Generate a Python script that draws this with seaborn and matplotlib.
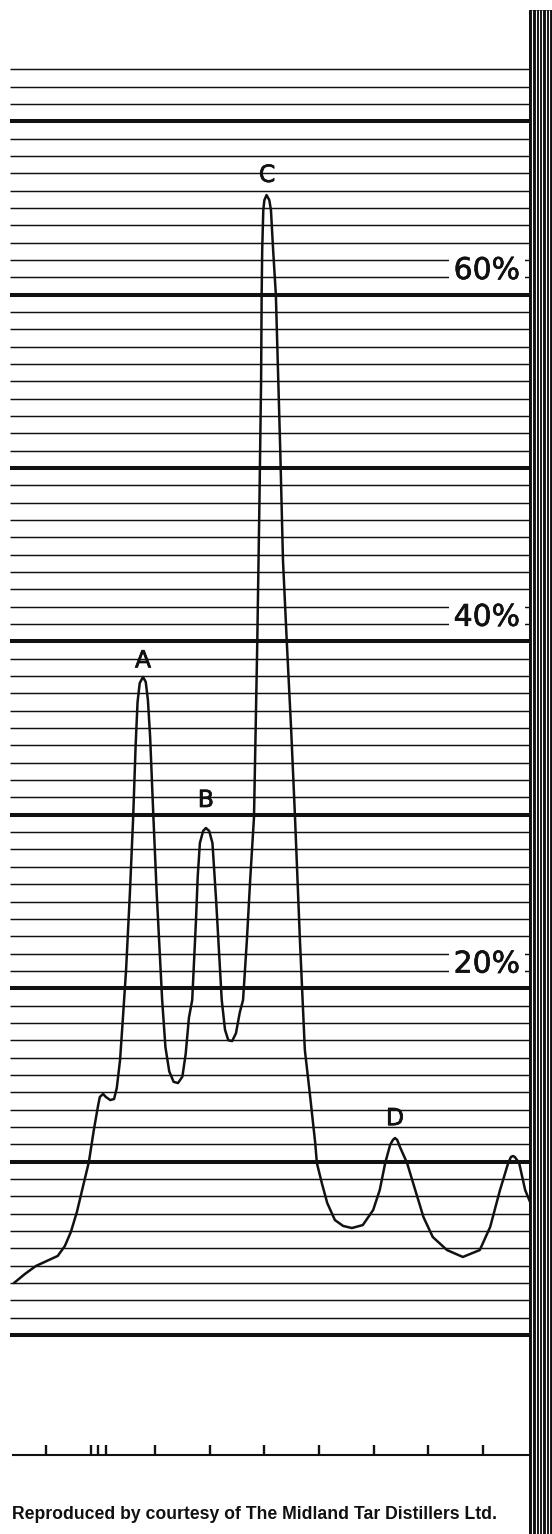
import numpy as np
import pandas as pd
import matplotlib
matplotlib.use("Agg")
import matplotlib.pyplot as plt
import matplotlib.patheffects as pe
import seaborn as sns

# ---- data -------------------------------------------------------------
# chart-paper trace: retention (divisions) and detector response (%)
retention = [
    -0.58, -0.38, -0.18, 0.02, 0.22, 0.35, 0.46, 0.57, 0.68, 0.79, 0.88, 0.96,
    0.99, 1.05, 1.10, 1.18, 1.25, 1.30, 1.36, 1.41, 1.47, 1.54, 1.60, 1.645,
    1.68, 1.72, 1.78, 1.83, 1.87, 1.91, 1.97, 2.03, 2.13, 2.19, 2.26, 2.34,
    2.42, 2.50, 2.56, 2.62, 2.68, 2.75, 2.78, 2.82, 2.88, 2.93, 2.99, 3.05,
    3.09, 3.12, 3.22, 3.28, 3.34, 3.41, 3.48, 3.55, 3.61, 3.68, 3.74, 3.81,
    3.84, 3.87, 3.91, 3.94, 3.95, 3.96, 3.98, 4.00, 4.04, 4.09, 4.12, 4.16,
    4.21, 4.29, 4.34, 4.41, 4.49, 4.56, 4.65, 4.74, 4.83, 4.93, 4.96, 5.05,
    5.15, 5.29, 5.44, 5.60, 5.80, 5.99, 6.11, 6.21, 6.30, 6.35, 6.39, 6.43,
    6.48, 6.61, 6.72, 6.91, 7.08, 7.34, 7.63, 7.94, 8.13, 8.31, 8.46, 8.51,
    8.55, 8.58, 8.66, 8.77, 8.92, 9.00,
]
response = [
    3.00, 3.52, 3.98, 4.27, 4.56, 5.13, 5.94, 7.09, 8.54, 9.98, 11.82, 13.26,
    13.73, 13.90, 13.73, 13.55, 13.61, 14.24, 15.86, 18.17, 21.05, 25.49, 29.87, 34.00,
    36.50, 37.60, 37.95, 37.66, 36.60, 34.50, 29.87, 25.49, 19.32, 16.60, 15.20, 14.60,
    14.53, 14.90, 16.20, 18.30, 19.32, 24.00, 26.41, 28.37, 29.07, 29.24, 29.07, 28.37,
    26.41, 24.91, 19.32, 17.60, 17.00, 16.95, 17.40, 18.60, 19.32, 22.78, 26.24, 29.87,
    34.89, 39.97, 48.15, 55.07, 59.98, 62.57, 64.88, 65.45, 65.74, 65.45, 64.88, 62.57,
    59.98, 51.04, 44.69, 39.97, 34.89, 29.87, 22.78, 16.44, 13.96, 11.07, 9.92, 8.77,
    7.61, 6.63, 6.29, 6.17, 6.34, 7.21, 8.36, 9.92, 10.96, 11.25, 11.36, 11.25,
    10.84, 9.92, 8.77, 6.80, 5.65, 4.90, 4.50, 4.90, 6.23, 8.36, 9.92, 10.27,
    10.32, 10.27, 9.92, 8.36, 7.21, 6.86,
]

# labelled peaks
peak_names = ["A", "B", "C", "D"]
peak_retention = [1.78, 2.93, 4.05, 6.39]
peak_label_level = [38.5, 30.45, 66.5, 12.1]

# chart-paper rulings (percent)
minor_levels = list(range(0, 74))
major_levels = [0, 10, 20, 30, 40, 50, 60, 70]
scale_values = [20, 40, 60]
scale_labels = ["20%", "40%", "60%"]

# time-base marks along the lower edge
time_marks = [0, 0.83, 0.96, 1.10, 2, 3, 4, 5, 6, 7, 8]

caption = "Reproduced by courtesy of The Midland Tar Distillers Ltd."

# ---- drawing ------------------------------------------------------------
sns.set_theme(style="white")
plt.rcParams["font.family"] = ["DejaVu Sans"]

INK = "#111111"
heavy = [pe.withStroke(linewidth=0.5, foreground=INK)]

fig = plt.figure(figsize=(5.52, 15.34), dpi=100)
ax = fig.add_axes([0, 0, 1, 1])
ax.set_xlim(-0.836, 9.261)
ax.set_ylim(-11.476, 76.99)
ax.axis("off")

paper_left, paper_right = -0.66, 8.84

# ruled lines
minor = [v for v in minor_levels if v not in major_levels]
ax.hlines(minor, paper_left, paper_right, colors=INK, lw=1.05, zorder=1)
ax.hlines(major_levels, paper_left, paper_right, colors=INK, lw=2.9, zorder=1)

# percentage scale labels, knocking out the rulings behind them
for val, lab in zip(scale_values, scale_labels):
    ax.text(8.07, val + 0.9, lab, ha="center", va="baseline", fontsize=21.5,
            color=INK, zorder=3, path_effects=heavy,
            bbox=dict(boxstyle="square,pad=0.16", fc="white", ec="none"))

# the recorder trace
trace = pd.DataFrame({"retention": retention, "response": response})
sns.lineplot(data=trace, x="retention", y="response", sort=False,
             color=INK, lw=1.8, ax=ax, zorder=4, estimator=None)
ax.lines[-1].set_solid_joinstyle("round")
ax.lines[-1].set_solid_capstyle("round")

# peak letters
for name, px, py in zip(peak_names, peak_retention, peak_label_level):
    ax.text(px, py, name, ha="center", va="baseline", fontsize=17,
            color=INK, zorder=5, path_effects=heavy)

# time base with its marks
base_level = -6.92
ax.hlines(base_level, -0.62, paper_right, colors=INK, lw=1.5, zorder=2)
ax.vlines(time_marks, base_level, base_level + 0.55, colors=INK, lw=1.7, zorder=2)

# striped paper edge on the right
ax.axvspan(8.845, 9.27, ymin=0, ymax=(76.4 + 11.476) / (76.99 + 11.476),
           color=INK, lw=0, zorder=6)
ax.vlines(np.arange(8.90, 9.26, 0.062), -11.476, 76.4, colors="white",
          lw=0.8, zorder=7)

ax.text(-0.62, -10.38, caption, ha="left", va="center", fontsize=12.7,
        family=["Liberation Sans"], fontweight="bold", color=INK)

fig.savefig("out.png", dpi=100, facecolor="white")
